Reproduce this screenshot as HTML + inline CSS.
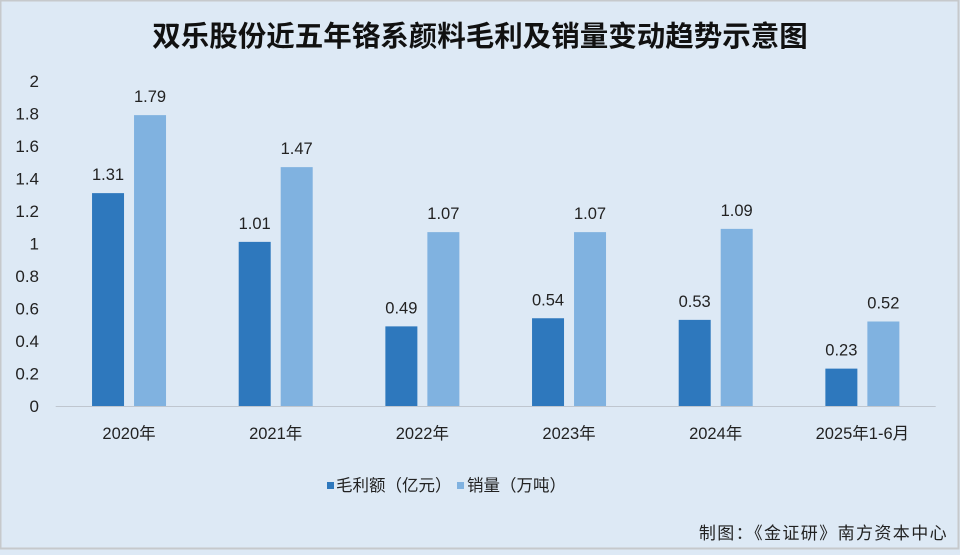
<!DOCTYPE html>
<html><head><meta charset="utf-8"><style>
html,body{margin:0;padding:0;}
body{width:960px;height:550px;overflow:hidden;background:#dde9f5;font-family:"Liberation Sans","Noto Sans CJK SC",sans-serif;}
svg text{font-family:"Liberation Sans","Noto Sans CJK SC",sans-serif;}
</style></head><body>
<svg id="chart" width="960" height="550" xmlns="http://www.w3.org/2000/svg">
<rect x="0.5" y="0.5" width="958" height="548" fill="#dde9f5" stroke="#c6c9cc" stroke-width="2"/>
<text x="480" y="46" text-anchor="middle" font-size="28.5" font-weight="bold" fill="#111">双乐股份近五年铬系颜料毛利及销量变动趋势示意图</text>
<g id="yaxis"></g>
<g id="bars"></g>
<g id="xaxis"></g>
<g>
<rect x="327" y="482" width="7" height="7" fill="#2e78bd"/>
<text x="336" y="491" font-size="16.5" fill="#222">毛利额（亿元）</text>
<rect x="457" y="482" width="7" height="7" fill="#80b2e0"/>
<text x="467" y="491" font-size="16.5" fill="#222">销量（万吨）</text>
</g>
<text x="948" y="539" text-anchor="end" font-size="17" letter-spacing="1.4" fill="#222">制图：《金证研》南方资本中心</text>
</svg>
<script>
const categories=["2020年","2021年","2022年","2023年","2024年","2025年1-6月"];
const grossProfit=[1.31,1.01,0.49,0.54,0.53,0.23];
const salesVolume=[1.79,1.47,1.07,1.07,1.09,0.52];
const yTicks=[0,0.2,0.4,0.6,0.8,1,1.2,1.4,1.6,1.8,2];
const NS="http://www.w3.org/2000/svg";
const x0=55.7,x1=935.7,yBase=406,yTop=81,yMax=2;
const y=v=>yBase-(v/yMax)*(yBase-yTop);
const band=(x1-x0)/categories.length;
const cx=i=>x0+band*(i+0.5);
function mk(tag,attrs,parent,txt){const e=document.createElementNS(NS,tag);for(const k in attrs)e.setAttribute(k,attrs[k]);if(txt!==undefined)e.textContent=txt;parent.appendChild(e);return e;}
const ya=document.getElementById('yaxis'),bars=document.getElementById('bars'),xa=document.getElementById('xaxis');
yTicks.forEach(t=>{const el=mk('text',{x:39,y:y(t)+6,'text-anchor':'end','font-size':17,fill:'#222'},ya,String(t));

});
const ax=mk('line',{x1:x0,x2:x1,y1:yBase+0.5,y2:yBase+0.5,stroke:'#bfc6cf','stroke-width':1},xa);


const bw=32,gap=10;
categories.forEach((c,i)=>{
 const lt=mk('text',{x:cx(i),y:yBase+33,'text-anchor':'middle','font-size':16.5,fill:'#222'},xa,c);
 
 
 [[grossProfit,'#2e78bd',-1,'bar-gross-profit','value-label-gross-profit'],[salesVolume,'#80b2e0',1,'bar-sales-volume','value-label-sales-volume']].forEach(([arr,col,s,nm,vn])=>{
  const v=arr[i];const bx=s<0?cx(i)-gap/2-bw:cx(i)+gap/2;
  const r=mk('rect',{x:bx,y:y(v),width:bw,height:yBase-y(v),fill:col},bars);
  
  
  const t=mk('text',{x:bx+bw/2,y:y(v)-13,'text-anchor':'middle','font-size':16.5,fill:'#222'},bars,v.toFixed(2));
  
  
 });
});
</script>
</body></html>
